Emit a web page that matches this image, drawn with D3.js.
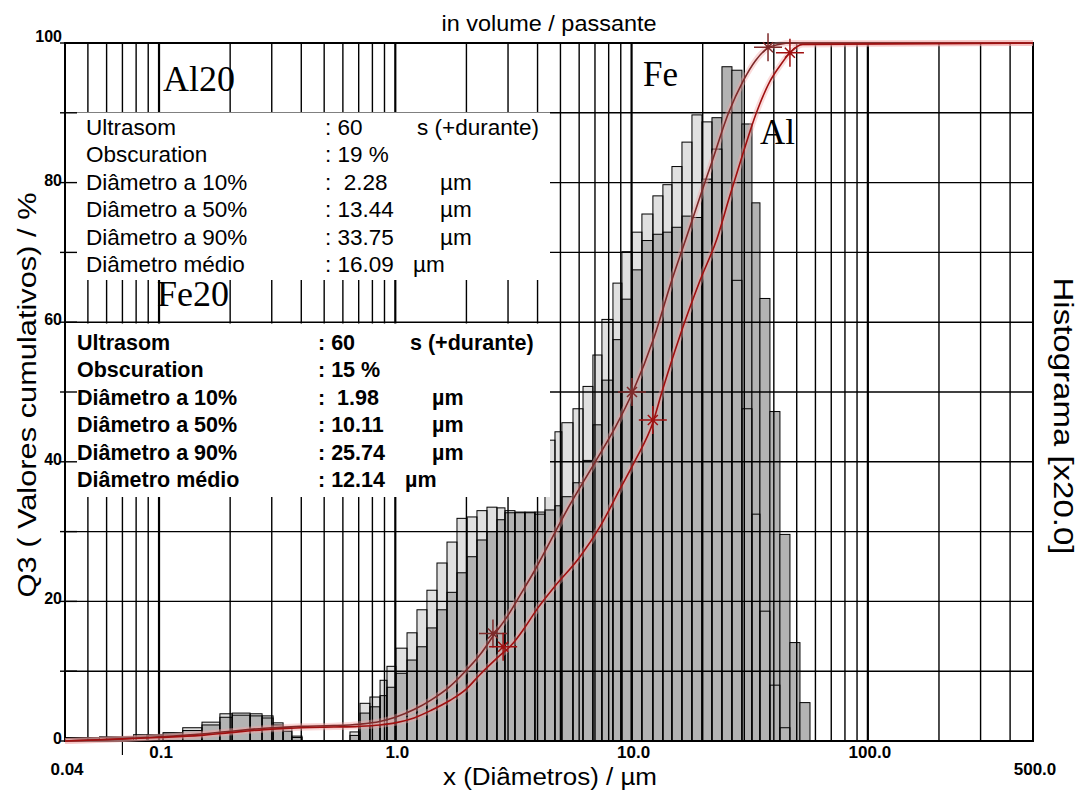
<!DOCTYPE html>
<html lang="pt">
<head>
<meta charset="utf-8">
<title>Granulometria Al20 / Fe20</title>
<script src="https://cdn.jsdelivr.net/npm/d3@7"></script>
<style>
body { margin: 0; background: #fff; }
text { font-family: "Liberation Sans", Arial, sans-serif; fill: #000; }
.serif { font-family: "Liberation Serif", "Times New Roman", serif; }
</style>
</head>
<body>
<script>

// size classes (µm), lower/upper edges of each histogram bar
var binEdges = [0.04, 0.056, 0.078, 0.089, 0.104, 0.126, 0.152, 0.181, 0.204, 0.243, 0.273, 0.304, 0.335, 0.365, 0.403,
	0.643, 0.709, 0.781, 0.862, 0.922, 1.006, 1.121, 1.235, 1.361, 1.501, 1.655, 1.824, 2.011, 2.216, 2.443, 2.693,
	2.912, 3.21, 3.538, 3.9, 4.3, 4.74, 5.07, 5.65, 6.23, 6.86, 7.49, 8.34, 9.1, 10.04, 11.06, 12.31, 13.57, 14.82,
	16.34, 18.01, 19.86, 21.89, 24.13, 26.6, 29.32, 32.32, 34.94, 38.51, 42.45, 46.8, 51.6, 56.9];

// histogram values (x20), Fe20 = light bars, Al20 = dark bars
var histFe = [0.5, 0.6, 0.9, 0.9, 1.2, 1.9, 2.7, 3.9, 4.0, 3.9, 3.6, 2.6, 1.9, 0.7,
	0,
	1.3, 5.4, 6.3, 8.7, 10.7, 13.3, 15.5, 18.8, 21.6, 25.5, 28.5, 31.9, 32.1, 33.0, 33.5, 33.4, 33.0, 32.8, 32.8, 32.8,
	43.1, 44.3, 45.6, 47.6, 50.8, 55.3, 60.4, 65.6, 70.1, 72.9, 75.5, 78.1, 79.7, 82.3, 85.8, 89.7, 88.7, 84.8, 80.0,
	66.0, 47.6, 32.5, 18.6, 8.0, 1.9, 0, 0];
var histAl = [0.4, 0.5, 0.7, 0.8, 1.0, 1.5, 2.3, 3.4, 3.7, 3.6, 3.3, 2.3, 1.4, 0.5,
	0,
	0.8, 4.0, 4.9, 6.5, 7.7, 9.7, 11.6, 13.5, 16.2, 18.8, 21.3, 24.1, 26.4, 28.8, 30.0, 31.7, 32.7, 32.7, 32.7, 32.5,
	33.1, 33.7, 35.0, 37.0, 40.2, 45.3, 51.7, 57.5, 63.3, 67.5, 71.7, 72.6, 72.9, 73.6, 75.2, 75.0, 80.5, 89.3, 96.6,
	96.1, 88.4, 77.1, 63.4, 47.2, 29.6, 14.1, 5.5];

// cumulative curves (passante, %)
var feCurveX = [0.04, 0.07, 0.1, 0.15, 0.2, 0.3, 0.4, 0.55, 0.7, 0.86, 1.0, 1.2, 1.42, 1.7, 1.98, 2.3, 2.59, 3.0, 3.39, 3.9,
	4.43, 5.41, 7.02, 8.55, 10.11, 12.5, 14.8, 17.0, 19.5, 21.9, 25.74, 29.6, 33.5, 37.8, 42, 48, 500];
var feCurveY = [0, 0.3, 0.6, 1.0, 1.4, 1.9, 2.1, 2.2, 2.4, 2.8, 3.4, 4.5, 5.9, 7.8, 10, 12.5, 15, 18, 21, 24.5,
	28, 33.5, 40, 45, 50, 58, 66, 72, 78, 83, 90, 94.5, 97.5, 99.3, 99.8, 100, 100];
var alCurveX = [0.04, 0.07, 0.1, 0.15, 0.2, 0.3, 0.4, 0.55, 0.7, 0.86, 1.0, 1.2, 1.42, 1.7, 1.99, 2.28, 2.7, 3.15, 3.49, 4.0,
	4.69, 6.05, 7.35, 8.9, 10.4, 12.3, 13.44, 16.0, 19.5, 23.0, 26.0, 29.5, 33.75, 38.5, 43, 46.8, 53, 500];
var alCurveY = [0, 0.3, 0.5, 0.8, 1.2, 1.7, 1.9, 2.0, 2.1, 2.3, 2.6, 3.3, 4.4, 5.8, 7.4, 9.5, 11.9, 14.0, 16.0, 19,
	22, 26.4, 30.7, 36, 40.3, 45.6, 50, 58, 66, 72, 78, 84, 90, 94.5, 97, 98.6, 99.8, 100];

// star markers on the curves
var markerSeries = ["Fe", "Al", "Fe", "Al", "Fe", "Al"];
var markerX = [2.59, 2.86, 10.04, 12.3, 37.8, 46.8];
var markerY = [15.4, 13.5, 50, 46, 99.4, 98.6];

// axes
var xGrid = [0.05, 0.06, 0.07, 0.08, 0.09, 0.1, 0.2, 0.3, 0.4, 0.5, 0.6, 0.7, 0.8, 0.9,
	1, 2, 3, 4, 5, 6, 7, 8, 9, 10, 20, 30, 40, 50, 60, 70, 80, 90, 100, 200, 300, 400];
var xDecades = [0.1, 1, 10, 100];
var xTicks = [0.04, 0.1, 1, 10, 100, 500];
var xTickLabels = ["0.04", "0.1", "1.0", "10.0", "100.0", "500.0"];
var yGrid = [10, 20, 30, 40, 50, 60, 70, 80, 90];
var yTicks = [0, 20, 40, 60, 80, 100];

// measurement tables
var infoLabels = ["Ultrasom", "Obscuration", "Diâmetro a 10%", "Diâmetro a 50%", "Diâmetro a 90%", "Diâmetro médio"];
var al20Values = [": 60", ": 19 %", ":  2.28", ": 13.44", ": 33.75", ": 16.09"];
var fe20Values = [": 60", ": 15 %", ":  1.98", ": 10.11", ": 25.74", ": 12.14"];
var infoUnits = ["s (+durante)", "", "µm", "µm", "µm", "µm"];

var w = 1081, h = 792;
var pL = 65, pR = 1033, pT = 43, pB = 741;

var x = d3.scaleLog().domain([0.04, 500]).range([pL, pR]);
var y = d3.scaleLinear().domain([0, 100]).range([pB, pT]);

var svg = d3.select("body").append("svg")
	.attr("width", w)
	.attr("height", h);

var bins = histFe.map(function(v, i) {
	return { x0: binEdges[i], x1: binEdges[i + 1], fe: v, al: histAl[i] };
});

function barX(d) { return x(d.x0); }
function barW(d) { return x(d.x1) - x(d.x0); }

// light bars (Fe) fill
svg.append("g").selectAll("rect")
	.data(bins.filter(function(d) { return d.fe > 0; }))
	.join("rect")
	.attr("x", barX).attr("width", barW)
	.attr("y", function(d) { return y(d.fe); })
	.attr("height", function(d) { return y(0) - y(d.fe); })
	.attr("fill", "#e0e0e0");

// dark bars (Al)
svg.append("g").selectAll("rect")
	.data(bins.filter(function(d) { return d.al > 0; }))
	.join("rect")
	.attr("x", barX).attr("width", barW)
	.attr("y", function(d) { return y(d.al); })
	.attr("height", function(d) { return y(0) - y(d.al); })
	.attr("fill", "#b3b3b3")
	.attr("stroke", "#000")
	.attr("stroke-width", 1);

// light bar outlines on top
svg.append("g").selectAll("rect")
	.data(bins.filter(function(d) { return d.fe > 0; }))
	.join("rect")
	.attr("x", barX).attr("width", barW)
	.attr("y", function(d) { return y(d.fe); })
	.attr("height", function(d) { return y(0) - y(d.fe); })
	.attr("fill", "none")
	.attr("stroke", "#000")
	.attr("stroke-width", 1);

// grid
svg.append("g").selectAll("line")
	.data(xGrid)
	.join("line")
	.attr("x1", function(d) { return x(d); })
	.attr("x2", function(d) { return x(d); })
	.attr("y1", pT).attr("y2", pB)
	.attr("stroke", "#000")
	.attr("stroke-width", function(d) { return xDecades.indexOf(d) >= 0 ? 2.2 : 1.4; });

svg.append("g").selectAll("line")
	.data(yGrid)
	.join("line")
	.attr("x1", pL).attr("x2", pR)
	.attr("y1", function(d) { return y(d); })
	.attr("y2", function(d) { return y(d); })
	.attr("stroke", "#000")
	.attr("stroke-width", 1.4);

// white boxes behind the tables
svg.append("rect").attr("x", pL + 1).attr("y", 112.5).attr("width", 484).attr("height", 167.5).attr("fill", "#fff");
svg.append("rect").attr("x", pL + 1).attr("y", 323.5).attr("width", 484).attr("height", 173.5).attr("fill", "#fff");

// frame
svg.append("rect")
	.attr("x", pL).attr("y", pT)
	.attr("width", pR - pL).attr("height", pB - pT)
	.attr("fill", "none").attr("stroke", "#000").attr("stroke-width", 2);

// y ticks (every 10) and labels
svg.append("g").selectAll("line")
	.data(d3.range(0, 101, 10))
	.join("line")
	.attr("x1", pL - 5).attr("x2", pL + 12)
	.attr("y1", function(d) { return y(d); })
	.attr("y2", function(d) { return y(d); })
	.attr("stroke", "#000").attr("stroke-width", 1.4);

svg.append("g").selectAll("text")
	.data(yTicks)
	.join("text")
	.attr("x", pL - 3)
	.attr("y", function(d) { return y(d) + (d === 100 ? -1 : 3); })
	.attr("text-anchor", "end")
	.style("font-size", "16px").style("font-weight", "bold")
	.text(function(d) { return d; });

// x tick labels
svg.append("g").selectAll("text")
	.data(xTicks)
	.join("text")
	.attr("x", function(d) { return x(d) + 2; })
	.attr("y", function(d, i) { return (i === 0 || i === xTicks.length - 1) ? 775 : 758; })
	.attr("text-anchor", "middle")
	.style("font-size", "17px").style("font-weight", "bold")
	.text(function(d, i) { return xTickLabels[i]; });

svg.append("line")
	.attr("x1", x(0.07)).attr("x2", x(0.07))
	.attr("y1", pB).attr("y2", pB + 14)
	.attr("stroke", "#000").attr("stroke-width", 1.2);

// cumulative curves
var line = d3.line()
	.x(function(d) { return x(d[0]); })
	.y(function(d) { return y(d[1]); })
	.curve(d3.curveMonotoneX);

var curves = [
	{ pts: d3.zip(feCurveX, feCurveY), color: "#7e2a2a" },
	{ pts: d3.zip(alCurveX, alCurveY), color: "#a01010" }
];

svg.append("g").selectAll("path")
	.data(curves)
	.join("path")
	.attr("d", function(d) { return line(d.pts); })
	.attr("fill", "none")
	.attr("stroke", "#f2a6a6")
	.attr("stroke-opacity", 0.4)
	.attr("stroke-width", 6);

svg.append("g").selectAll("path")
	.data(curves)
	.join("path")
	.attr("d", function(d) { return line(d.pts); })
	.attr("fill", "none")
	.attr("stroke", function(d) { return d.color; })
	.attr("stroke-width", 1.6);

// markers
svg.append("g").selectAll("path")
	.data(markerX.map(function(v, i) { return [v, markerY[i], markerSeries[i]]; }))
	.join("path")
	.attr("d", function(d) {
		var cx = x(d[0]), cy = y(d[1]);
		return "M" + (cx - 14) + "," + cy + "H" + (cx + 14) +
			"M" + cx + "," + (cy - 14) + "V" + (cy + 14) +
			"M" + (cx - 5) + "," + (cy - 5) + "L" + (cx + 5) + "," + (cy + 5) +
			"M" + (cx - 5) + "," + (cy + 5) + "L" + (cx + 5) + "," + (cy - 5);
	})
	.attr("fill", "none")
	.attr("stroke", function(d) { return d[2] === "Fe" ? "#7e2a2a" : "#a01010"; })
	.attr("stroke-width", 1.5);

// tables
function table(labels, values, y0, labelX, colonX, unitX, bold, size) {
	var g = svg.append("g")
		.style("font-size", size + "px")
		.style("font-weight", bold ? "bold" : "normal");
	labels.forEach(function(lab, i) {
		var yy = y0 + i * 27.4;
		g.append("text").attr("x", labelX).attr("y", yy).text(lab);
		g.append("text").attr("x", colonX).attr("y", yy)
			.attr("xml:space", "preserve").style("white-space", "pre")
			.text(values[i]);
		if (infoUnits[i]) {
			var ux = i === 0 ? unitX[0] : (i === labels.length - 1 ? unitX[2] : unitX[1]);
			g.append("text").attr("x", ux).attr("y", yy).text(infoUnits[i]);
		}
	});
}
table(infoLabels, al20Values, 135, 86, 325, [417, 440, 413], false, 22.5);
table(infoLabels, fe20Values, 350, 77, 318, [410, 432, 405], true, 21.5);

// big sample labels
svg.append("text").attr("class", "serif").attr("x", 163).attr("y", 91).style("font-size", "36px").text("Al20");
svg.append("text").attr("class", "serif").attr("x", 157).attr("y", 306).style("font-size", "36px").text("Fe20");
svg.append("text").attr("class", "serif").attr("x", 643).attr("y", 86).style("font-size", "35px").text("Fe");
svg.append("text").attr("class", "serif").attr("x", 760).attr("y", 144).style("font-size", "35px").text("Al");

// titles
svg.append("text")
	.attr("x", 549).attr("y", 31)
	.attr("text-anchor", "middle")
	.attr("textLength", 215).attr("lengthAdjust", "spacingAndGlyphs")
	.style("font-size", "22px")
	.text("in volume / passante");

svg.append("text")
	.attr("x", 550).attr("y", 785)
	.attr("text-anchor", "middle")
	.attr("textLength", 214).attr("lengthAdjust", "spacingAndGlyphs")
	.style("font-size", "23px")
	.text("x (Diâmetros) / µm");

svg.append("text")
	.attr("transform", "translate(36,395) rotate(-90)")
	.attr("text-anchor", "middle")
	.attr("textLength", 405).attr("lengthAdjust", "spacingAndGlyphs")
	.style("font-size", "25px")
	.text("Q3 ( Valores cumulativos) / %");

svg.append("text")
	.attr("transform", "translate(1054,416) rotate(90)")
	.attr("text-anchor", "middle")
	.attr("textLength", 277).attr("lengthAdjust", "spacingAndGlyphs")
	.style("font-size", "27px")
	.text("Histograma [x20.0]");

</script>
</body>
</html>
